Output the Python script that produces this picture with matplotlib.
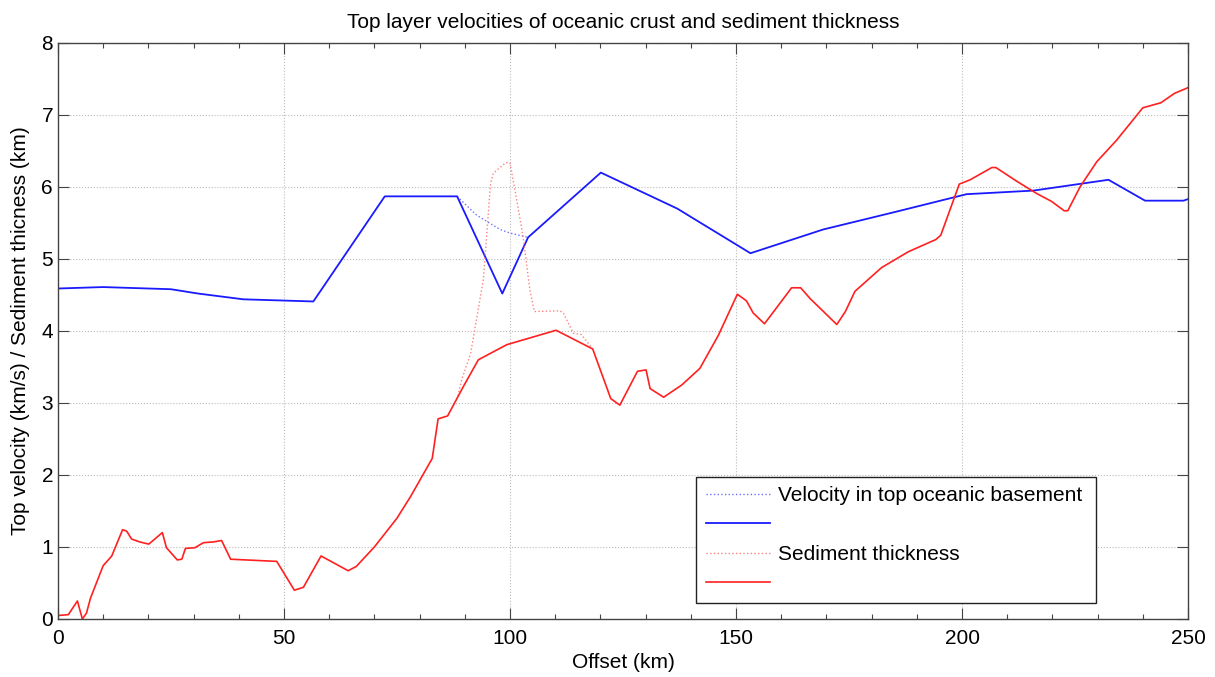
import matplotlib

matplotlib.use("AGG")

import matplotlib.pyplot as plt  # isort:skip
from matplotlib.ticker import MultipleLocator  # isort:skip

# Top basement velocity (km/s), solid
vel_x = [0, 10, 25, 31, 41, 56.5, 72.3, 88.3, 98.3, 104, 120.1, 137, 153.2,
         169.3, 185, 201, 215.8, 232.4, 240.5, 249, 250.4]
vel_y = [4.59, 4.61, 4.58, 4.52, 4.44, 4.41, 5.87, 5.87, 4.52, 5.30, 6.2,
         5.7, 5.08, 5.41, 5.65, 5.90, 5.95, 6.1, 5.81, 5.81, 5.84]

# Velocity alternative (dotted) across the 88-104 km section
vel_alt_x = [88.3, 92.6, 97.8, 100, 104]
vel_alt_y = [5.87, 5.61, 5.41, 5.36, 5.30]

# Sediment thickness (km), solid
sed_x = [0.3, 2.3, 4.3, 5.4, 6.3, 7.2, 10, 11.9, 14.3, 15.2, 16.3, 18.1, 20.1,
         23.1, 24, 26.4, 27.4, 28.2, 30.3, 32.2, 34.4, 36.2, 38.2, 48.4, 52.3,
         54.3, 58.2, 64.2, 66, 70, 75, 78, 82.8, 84.1, 86.2, 89.7, 93, 99.3,
         110.2, 118.3, 122.3, 124.3, 128.2, 130.1, 131, 134, 138, 142, 146.1,
         150.3, 152.3, 153.8, 156.3, 162.3, 164.3, 166.4, 172.3, 174.2, 176.3,
         182.2, 188.1, 194.2, 195.3, 199.4, 201.8, 206.6, 207.5, 212.1, 216.5,
         219.8, 222.6, 223.4, 226.1, 229.8, 234.2, 240, 244, 247, 250]
sed_y = [0.05, 0.06, 0.25, 0.0, 0.08, 0.29, 0.74, 0.875, 1.24, 1.22, 1.11,
         1.07, 1.04, 1.2, 0.99, 0.82, 0.83, 0.98, 0.99, 1.06, 1.07, 1.09, 0.83,
         0.8, 0.40, 0.44, 0.875, 0.67, 0.73, 1.0, 1.4, 1.7, 2.23, 2.78, 2.82,
         3.23, 3.6, 3.81, 4.01, 3.75, 3.06, 2.97, 3.44, 3.46, 3.2, 3.08, 3.25,
         3.48, 3.94, 4.51, 4.42, 4.25, 4.1, 4.6, 4.6, 4.45, 4.09, 4.27, 4.55,
         4.88, 5.1, 5.27, 5.33, 6.04, 6.1, 6.27, 6.27, 6.08, 5.91, 5.8, 5.67,
         5.67, 6.0, 6.35, 6.65, 7.1, 7.17, 7.3, 7.38]

# Sediment thickness alternative (dotted) across the 88-118 km section
sed_alt_x = [88.5, 89.3, 91.3, 94.1, 95.7, 96.3, 99.1, 100, 101.1, 102.9,
             104.4, 105.4, 111, 111.8, 114, 115.8, 118.3]
sed_alt_y = [3.1, 3.32, 3.69, 4.71, 6.05, 6.19, 6.34, 6.33, 5.96, 5.31, 4.57,
             4.27, 4.28, 4.25, 3.97, 3.95, 3.75]

LABELS = ["Velocity in top oceanic basement", "", "Sediment thickness", ""]

FS = 15

plt.rcParams["font.family"] = ["Liberation Sans", "DejaVu Sans"]
plt.rcParams["font.size"] = FS

fig = plt.figure(figsize=(12.15, 6.77), dpi=100)
ax = fig.add_axes([0.0477, 0.0857, 0.9301, 0.8508])

h1, = ax.plot(vel_alt_x, vel_alt_y, ":", color="#7070ff", lw=1.0)
h2, = ax.plot(vel_x, vel_y, "-", color="#1a1aff", lw=1.3)
h3, = ax.plot(sed_alt_x, sed_alt_y, ":", color="#ff8080", lw=1.0)
h4, = ax.plot(sed_x, sed_y, "-", color="#ff2020", lw=1.2)

ax.set_xlim(0, 250)
ax.set_ylim(0, 8)
ax.xaxis.set_major_locator(MultipleLocator(50))
ax.xaxis.set_minor_locator(MultipleLocator(10))
ax.yaxis.set_major_locator(MultipleLocator(1))
ax.tick_params(which="both", direction="in", top=True, right=True,
               color="#444444", labelsize=FS)
ax.tick_params(which="major", length=8, width=0.8)
ax.tick_params(axis="x", which="major", pad=7)
ax.tick_params(which="minor", length=3.5, width=0.8)
ax.grid(True, which="major", linestyle=":", color="#bbbbbb", linewidth=0.8)
for spine in ax.spines.values():
    spine.set_color("#444444")
    spine.set_linewidth(1.0)

ax.set_title("Top layer velocities of oceanic crust and sediment thickness",
             fontsize=FS, pad=11)
ax.set_xlabel("Offset (km)", fontsize=FS, labelpad=4)
ax.set_ylabel("Top velocity (km/s) / Sediment thicness (km)", fontsize=FS,
              labelpad=8)

leg = ax.legend([h1, h2, h3, h4], LABELS, loc="lower left",
                bbox_to_anchor=(0.565, 0.028, 0.354, 0.217), mode="expand",
                fontsize=FS, fancybox=False, framealpha=1, borderaxespad=0,
                handlelength=3.1, handletextpad=0.35, labelspacing=0.5,
                borderpad=0.45)
leg.get_frame().set_edgecolor("#222222")
leg.get_frame().set_linewidth(1.0)

fig.savefig("out.png", dpi=100)
plt.close(fig)
